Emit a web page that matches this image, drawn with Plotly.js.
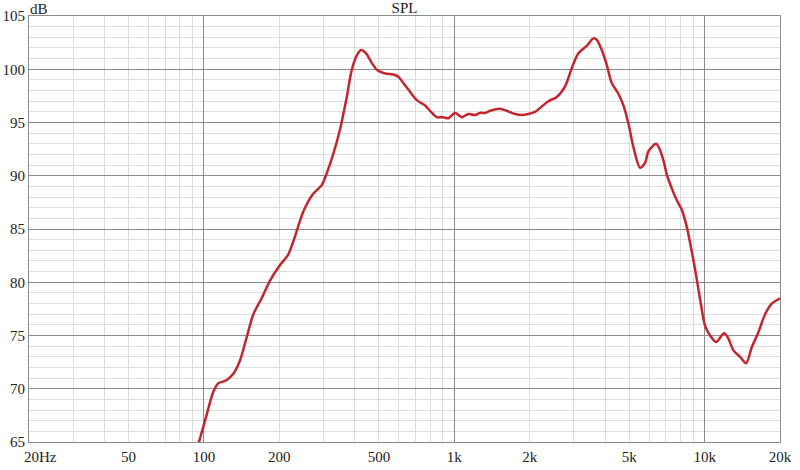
<!DOCTYPE html>
<html>
<head>
<meta charset="utf-8">
<script src="https://cdn.plot.ly/plotly-3.0.1.min.js"></script>
<style>html,body{margin:0;padding:0;background:#fff;}#chart{width:800px;height:470px;}</style>
</head>
<body>
<div id="chart"></div>
<script>
// Frequency (Hz) and SPL (dB)
const freqHz = [93, 95, 102.6, 108.9, 114, 123, 131, 139, 148, 157.5, 170, 184, 201, 217, 231, 249, 273, 295, 309, 329, 349, 372, 389, 408, 424, 444, 468, 493, 529, 571, 598, 626, 655, 708, 764, 800, 851, 904, 947, 1007, 1071, 1138, 1210, 1267, 1328, 1389, 1523, 1620, 1749, 1859, 1976, 2102, 2235, 2375, 2567, 2770, 2945, 3131, 3382, 3594, 3708, 3882, 4065, 4256, 4523, 4737, 4960, 5193, 5522, 5781, 5962, 6398, 6638, 6887, 7061, 7393, 7740, 8104, 8486, 8748, 9160, 9591, 10043, 10516, 11113, 11963, 12442, 13030, 13856, 14640, 15430, 16390, 17430, 18540, 20000];
const splDb = [64.3, 64.85, 67.6, 69.7, 70.5, 70.8, 71.4, 72.6, 74.8, 77.0, 78.5, 80.2, 81.6, 82.6, 84.3, 86.6, 88.3, 89.1, 90.2, 92.1, 94.3, 97.4, 99.9, 101.3, 101.8, 101.5, 100.6, 99.9, 99.6, 99.5, 99.3, 98.7, 98.1, 97.1, 96.6, 96.1, 95.5, 95.5, 95.4, 95.9, 95.5, 95.8, 95.7, 95.9, 95.9, 96.1, 96.3, 96.1, 95.8, 95.7, 95.8, 96.0, 96.5, 97.0, 97.4, 98.4, 100.1, 101.5, 102.2, 102.9, 102.75, 101.8, 100.4, 98.7, 97.7, 96.6, 94.9, 92.7, 90.75, 91.2, 92.3, 93.0, 92.4, 91.2, 90.1, 88.8, 87.7, 86.8, 85.2, 83.7, 81.2, 78.4, 75.9, 75.0, 74.4, 75.2, 74.7, 73.6, 73.0, 72.4, 73.9, 75.3, 77.0, 78.0, 78.5];

// Tick labels
const xTickVals = [20, 50, 100, 200, 500, 1000, 2000, 5000, 10000, 20000];
const xTickText = ['\u00a0\u00a0\u00a0\u00a0\u00a0\u00a020Hz', '50', '100', '200', '500', '1k', '2k', '5k', '10k', '20k'];
const xMajorGrid = [100, 1000, 10000];
const yTickVals = [65, 70, 75, 80, 85, 90, 95, 100, 105];

// minor grid positions: every integer multiple within each decade
const xMinorGrid = [];
[10, 100, 1000, 10000].forEach(d => { for (let m = 1; m <= 9; m++) { const v = m * d; if (v >= 20 && v <= 20000) xMinorGrid.push(v); } });

const FONT = 'Liberation Serif, Times New Roman, serif';
const MAJOR = '#8c8c8c';
const MINOR = '#dedede';
const xr = [Math.log10(20), Math.log10(20000)];

const traces = [
  {x: freqHz, y: splDb, type: 'scatter', mode: 'lines', xaxis: 'x', yaxis: 'y',
   line: {color: '#c4262d', width: 2.5, shape: 'spline', smoothing: 0.8}, hoverinfo: 'skip', showlegend: false},
  {x: [], y: [], type: 'scatter', mode: 'lines', xaxis: 'x2', yaxis: 'y', showlegend: false, hoverinfo: 'skip'}
];

const layout = {
  width: 800, height: 470,
  margin: {l: 29, r: 20, t: 16, b: 28},
  paper_bgcolor: '#fff', plot_bgcolor: '#fff',
  font: {family: FONT, size: 15, color: '#222'},
  showlegend: false,
  title: {text: 'SPL', x: 0.5, xref: 'paper', xanchor: 'center', y: 1 - 8/470, yref: 'container', yanchor: 'middle', font: {family: FONT, size: 15, color: '#222'}},
  xaxis: {type: 'log', range: xr, tickmode: 'array', tickvals: xMajorGrid, showticklabels: false, ticks: '',
          showgrid: true, gridcolor: MAJOR, gridwidth: 1, zeroline: false,
          showline: true, linecolor: MAJOR, linewidth: 1, mirror: true,
          minor: {tickmode: 'array', tickvals: xMinorGrid, showgrid: true, gridcolor: MINOR, gridwidth: 1, ticks: ''}},
  xaxis2: {type: 'log', range: xr, overlaying: 'x', anchor: 'y', side: 'bottom', tickmode: 'array', tickvals: xTickVals, ticktext: xTickText,
           showgrid: false, zeroline: false, showline: false, ticks: '', ticklen: 0, ticklabelstandoff: 4,
           tickfont: {family: FONT, size: 15, color: '#222'}},
  yaxis: {range: [65, 105], tickmode: 'array', tickvals: yTickVals, ticks: '', showgrid: true, gridcolor: MAJOR, gridwidth: 1,
          zeroline: false, showline: true, linecolor: MAJOR, linewidth: 1, mirror: true,
          tickfont: {family: FONT, size: 15, color: '#222'},
          minor: {dtick: 1, showgrid: true, gridcolor: MINOR, gridwidth: 1, ticks: ''}},
  annotations: [{text: 'dB', xref: 'paper', yref: 'paper', x: 0, y: 1, xanchor: 'left', yanchor: 'bottom', showarrow: false,
                 font: {family: FONT, size: 15, color: '#222'}, xshift: -1, yshift: -3}]
};

Plotly.newPlot('chart', traces, layout, {staticPlot: true, displayModeBar: false});
</script>
</body>
</html>
